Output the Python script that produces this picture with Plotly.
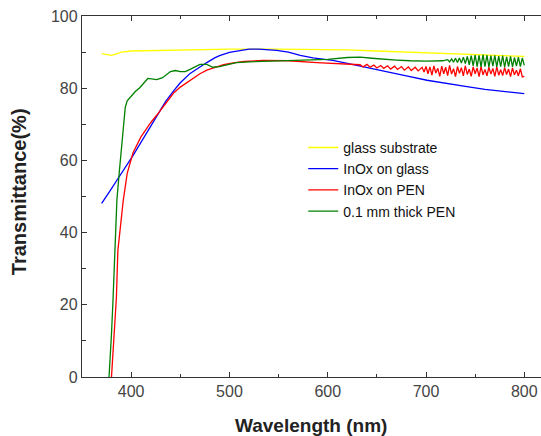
import plotly.graph_objects as go

# ---- data ----
glass_x = [370, 375, 380, 385, 390, 400, 420, 450, 480, 500, 550, 600, 620, 650, 680, 700, 730, 760, 780, 800]
glass_y = [89.6, 89.4, 89.1, 89.5, 90.0, 90.3, 90.4, 90.5, 90.7, 90.8, 90.8, 90.7, 90.6, 90.3, 90.0, 89.6, 89.4, 89.1, 89.0, 88.8]

inox_glass_x = [370, 375, 380, 385, 389, 395, 402, 410, 420, 426, 435, 443, 450, 460, 470, 477, 485, 490, 500, 511, 520, 530, 548, 560, 572, 585, 605, 620, 640, 660, 680, 701, 720, 740, 760, 780, 800]
inox_glass_y = [48.1, 50.0, 52.2, 54.3, 55.9, 58.4, 61.4, 65.0, 69.5, 72.5, 76.3, 79.2, 81.5, 84.1, 86.0, 87.1, 88.4, 89.0, 89.9, 90.5, 90.8, 90.8, 90.5, 90.0, 89.1, 88.4, 87.7, 86.9, 85.8, 84.7, 83.4, 82.2, 81.3, 80.5, 79.7, 79.1, 78.5]

inox_pen_x = [380, 381, 383, 385, 386.5, 389, 392, 396, 402, 410, 420, 426, 435, 443, 450, 460, 470, 477, 485, 494, 504, 515, 534, 560, 589, 610, 622, 633,
              636, 640, 643, 647, 650, 654, 657, 661, 664, 668, 671, 675, 678, 682, 685, 689, 692, 696, 698,
              700, 702, 704, 706, 708, 710, 712, 714, 716, 718, 720, 722, 724, 726, 728, 730, 732, 734, 736, 738,
              740, 742, 744, 746, 748, 750, 752, 754, 756, 758, 760, 762, 764, 766, 768, 770, 772, 774, 776, 778,
              780, 782, 784, 786, 788, 790, 792, 794, 796, 798, 800]
inox_pen_y = [0, 4, 12, 22, 35, 42, 49, 56.4, 62.2, 66.5, 70.5, 72.5, 75.8, 78.6, 80.3, 82.2, 84.0, 85.0, 85.8, 86.5, 87.0, 87.4, 87.7, 87.6, 87.1, 86.8, 86.6, 86.5,
              85.9, 86.6, 85.8, 86.4, 85.6, 86.3, 85.5, 86.2, 85.3, 86.1, 85.2, 86.0, 85.0, 85.9, 84.9, 85.8, 84.8, 85.8, 84.5,
              86.0, 84.0, 85.9, 83.6, 86.2, 84.2, 85.5, 83.3, 86.1, 84.0, 85.8, 83.5, 86.3, 83.9, 85.4, 83.2, 86.0, 84.1, 85.7, 83.4,
              86.2, 83.8, 85.3, 83.3, 85.9, 84.0, 85.6, 83.2, 86.0, 83.7, 85.2, 83.4, 85.8, 83.9, 85.5, 83.3, 85.9, 83.6, 85.1, 83.5,
              85.7, 83.8, 85.3, 83.2, 85.6, 83.7, 85.0, 83.4, 85.4, 83.1, 83.3]

pen_x = [377.5, 378.5, 380, 381.5, 383.5, 385.5, 388, 391, 394, 396, 399, 404, 409, 417, 426, 432, 440, 445, 450, 455, 460, 465, 470, 477, 483, 490, 500, 507, 520, 540, 572, 600, 620, 633, 645, 656, 670, 684, 700, 717,
          722, 724, 726, 728, 730, 732, 734, 736, 738, 740, 742, 744, 746, 748, 750, 752, 754, 756, 758, 760,
          762, 764, 766, 768, 770, 772, 774, 776, 778, 780, 782, 784, 786, 788, 790, 792, 794, 796, 798, 800]
pen_y = [0, 4, 12, 21, 35, 49, 57, 65.5, 74.7, 76.5, 77.5, 79.0, 80.2, 82.7, 82.4, 82.9, 84.6, 84.9, 84.6, 84.6, 85.2, 85.8, 86.6, 86.6, 85.8, 86.0, 86.6, 87.1, 87.3, 87.5, 87.7, 88.0, 88.5, 88.6, 88.3, 88.0, 87.8, 87.6, 87.5, 87.6,
         87.9, 87.3, 88.1, 87.2, 88.3, 87.1, 88.4, 87.0, 88.6, 86.8, 88.8, 86.5, 89.0, 86.2, 89.2, 86.0, 89.1, 85.9, 89.3, 86.0,
         89.2, 85.8, 89.0, 86.1, 89.1, 85.9, 88.9, 86.0, 89.0, 85.8, 88.7, 86.0, 88.8, 85.9, 88.5, 86.1, 88.6, 86.0, 88.4, 86.3]

names = ["glass substrate", "InOx on glass", "InOx on PEN", "0.1 mm thick PEN"]
colors = ["#ffff00", "#0000ff", "#ff0000", "#008000"]

FONT = "Arial, Liberation Sans, sans-serif"

fig = go.Figure()
for xs, ys, nm, c in [(glass_x, glass_y, names[0], colors[0]),
                      (inox_glass_x, inox_glass_y, names[1], colors[1]),
                      (inox_pen_x, inox_pen_y, names[2], colors[2]),
                      (pen_x, pen_y, names[3], colors[3])]:
    fig.add_trace(go.Scatter(x=xs, y=ys, mode="lines", name=nm,
                             line=dict(color=c, width=1.3)))

axis_common = dict(showline=True, linecolor="#333333", linewidth=1.3,
                   ticks="inside", tickcolor="#333333", tickwidth=1.2, ticklen=5,
                   showgrid=False, zeroline=False, automargin=False,
                   tickfont=dict(family=FONT, size=16, color="#444444"))

fig.update_xaxes(range=[350, 817], dtick=100, tick0=0, mirror="ticks",
                 minor=dict(ticks="inside", dtick=50, ticklen=3, tickcolor="#333333"),
                 **axis_common)
fig.update_yaxes(range=[0, 100], dtick=20, tick0=0, mirror=False,
                 minor=dict(ticks="inside", dtick=10, ticklen=4, tickcolor="#333333"),
                 **axis_common)

fig.add_annotation(text="<b>Wavelength (nm)</b>", xref="paper", yref="paper",
                   x=0.499, y=0, yanchor="middle", yshift=-48, showarrow=False,
                   font=dict(family=FONT, size=19, color="#222222"))
fig.add_annotation(text="<b>Transmittance(%)</b>", xref="paper", yref="paper",
                   x=0, y=0.512, xanchor="center", yanchor="middle", xshift=-63,
                   textangle=-90, showarrow=False,
                   font=dict(family=FONT, size=20, color="#222222"))

fig.update_layout(
    width=541, height=436,
    margin=dict(l=82, r=0, t=16, b=59),
    paper_bgcolor="white", plot_bgcolor="white",
    showlegend=True,
    legend=dict(x=0.482, y=0.679, xanchor="left", yanchor="top",
                bgcolor="rgba(0,0,0,0)", font=dict(family=FONT, size=14, color="#111111"),
                tracegroupgap=0, itemwidth=30),
)

fig.write_html("out.html", config={"displayModeBar": False},
               post_script="document.body.style.margin='0';document.body.style.overflow='hidden';")
